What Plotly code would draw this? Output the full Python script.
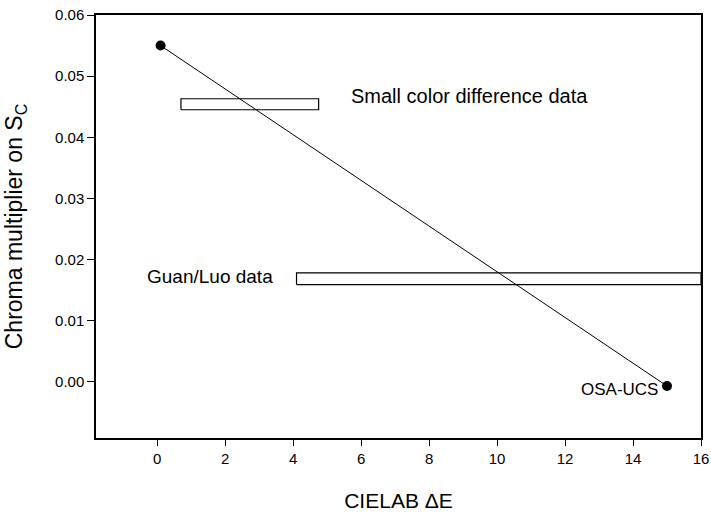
import plotly.graph_objects as go

# Chroma multiplier estimates at the two ends of the colour-difference range
de_points = [0.1, 15.0]
sc_points = [0.055, -0.0007]

# Ranges covered by the two experimental data sets (ΔE span, multiplier span)
small_de = [0.7, 4.75]
small_sc = [0.0445, 0.0463]
guan_de = [4.1, 16.0]
guan_sc = [0.0159, 0.0178]

labels = ["Small color difference data", "Guan/Luo data", "OSA-UCS"]
label_x = [5.65, -0.35, 12.4]
label_y = [0.0468, 0.0172, -0.0012]
label_size = [20, 19, 17]

x_ticks = [0, 2, 4, 6, 8, 10, 12, 14, 16]
y_ticks = [0.00, 0.01, 0.02, 0.03, 0.04, 0.05, 0.06]

FONT = "Liberation Sans, Arial, sans-serif"


def box(xs, ys):
    x0, x1 = xs
    y0, y1 = ys
    return [x0, x1, x1, x0, x0], [y0, y0, y1, y1, y0]


fig = go.Figure()

for xs, ys in [(small_de, small_sc), (guan_de, guan_sc)]:
    bx, by = box(xs, ys)
    fig.add_trace(go.Scatter(
        x=bx, y=by, mode="lines", fill="toself", fillcolor="white",
        line=dict(color="black", width=1.2), hoverinfo="skip", showlegend=False,
        cliponaxis=False,
    ))

fig.add_trace(go.Scatter(
    x=de_points, y=sc_points, mode="lines+markers",
    line=dict(color="black", width=1),
    marker=dict(color="black", size=10),
    showlegend=False, cliponaxis=False,
))

for t, x, y, s in zip(labels, label_x, label_y, label_size):
    fig.add_annotation(x=x, y=y, text=t, showarrow=False, xanchor="left",
                       yanchor="middle", font=dict(family=FONT, size=s, color="black"))

fig.update_layout(
    width=711, height=516,
    margin=dict(l=96, r=10, t=15, b=78),
    paper_bgcolor="white", plot_bgcolor="white",
    font=dict(family=FONT, color="black"),
)

fig.update_xaxes(
    range=[-1.8, 16], tickvals=x_ticks, ticktext=[str(v) for v in x_ticks],
    ticks="outside", ticklen=6, tickwidth=1, tickcolor="black",
    showline=True, linecolor="black", linewidth=1.5, mirror=True,
    showgrid=False, zeroline=False, automargin=False,
    tickfont=dict(family=FONT, size=15),
    title=dict(text="CIELAB ΔE", font=dict(family=FONT, size=21), standoff=28),
)
fig.update_yaxes(
    range=[-0.0092, 0.06], tickvals=y_ticks, ticktext=[f"{v:.2f}" for v in y_ticks],
    ticks="outside", ticklen=7, tickwidth=1, tickcolor="black",
    showline=True, linecolor="black", linewidth=1.5, mirror=True,
    showgrid=False, zeroline=False, automargin=False,
    tickfont=dict(family=FONT, size=15),
    title=dict(text="Chroma multiplier on S<sub>C</sub>", font=dict(family=FONT, size=23), standoff=26),
)

fig.write_html("out.html")
